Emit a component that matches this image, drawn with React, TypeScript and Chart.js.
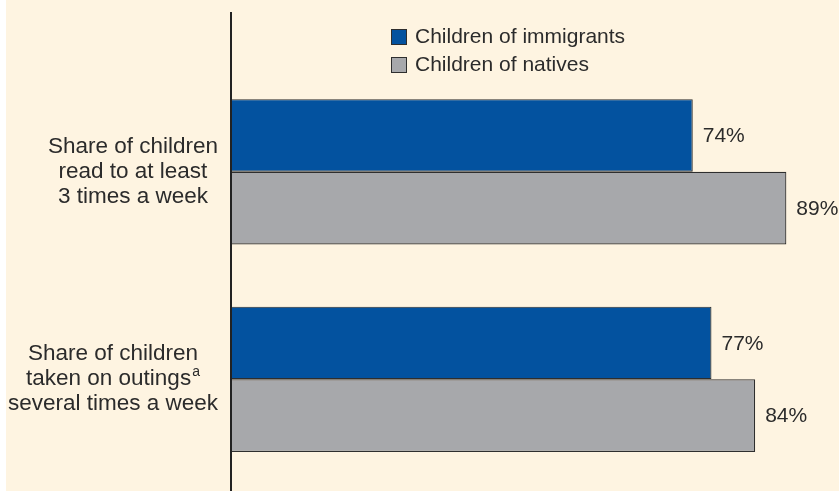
import React, { useEffect, useRef } from 'react';
import { Chart, registerables } from 'chart.js';

Chart.register(...registerables);

// ---- data ----
const categoryLines: string[][] = [
  ['Share of children', 'read to at least', '3 times a week'],
  ['Share of children', 'taken on outings^a', 'several times a week'],
];
const seriesNames = ['Children of immigrants', 'Children of natives'];
const immigrantsValues = [74, 77];
const nativesValues = [89, 84];
const valueSuffix = '%';

// ---- style ----
const BLUE = '#03529f';
const GRAY = '#a7a8ab';
const BORDER = '#2e2e2e';
const CREAM = '#fef4e1';
const TEXT = '#2b2b2b';
const FAMILY = '"Liberation Sans", Arial, Helvetica, sans-serif';
const FONT_PX = 21;
const CAT_PX = 22.5;

function drawLine(ctx: CanvasRenderingContext2D, line: string, cx: number, y: number) {
  const parts = line.split('^');
  const main = parts[0];
  const sup = parts[1] || '';
  ctx.font = `${CAT_PX}px ${FAMILY}`;
  const wMain = ctx.measureText(main).width;
  ctx.font = `${Math.round(CAT_PX * 0.62)}px ${FAMILY}`;
  const wSup = sup ? ctx.measureText(sup).width + 1 : 0;
  const start = cx - (wMain + wSup) / 2;
  ctx.textAlign = 'left';
  ctx.textBaseline = 'middle';
  ctx.font = `${CAT_PX}px ${FAMILY}`;
  ctx.fillText(main, start, y);
  if (sup) {
    ctx.font = `${Math.round(CAT_PX * 0.62)}px ${FAMILY}`;
    ctx.fillText(sup, start + wMain + 1, y - 7);
  }
}

function lineWidth(ctx: CanvasRenderingContext2D, line: string) {
  const parts = line.split('^');
  ctx.font = `${CAT_PX}px ${FAMILY}`;
  let w = ctx.measureText(parts[0]).width;
  if (parts[1]) {
    ctx.font = `${Math.round(CAT_PX * 0.62)}px ${FAMILY}`;
    w += ctx.measureText(parts[1]).width + 1;
  }
  return w;
}

const decorPlugin = {
  id: 'decor',
  afterDatasetsDraw(chart: any) {
    const { ctx, chartArea, scales } = chart;
    const yScale = scales.y;
    ctx.save();
    // axis line
    ctx.strokeStyle = '#222';
    ctx.lineWidth = 2;
    ctx.beginPath();
    ctx.moveTo(chartArea.left, 12);
    ctx.lineTo(chartArea.left, chart.height);
    ctx.stroke();

    // category labels (centered blocks, right-aligned as blocks)
    ctx.fillStyle = TEXT;
    const rightEdge = chartArea.left - 13;
    const lh = 25;
    categoryLines.forEach((lines, i) => {
      const yc = yScale.getPixelForValue(i);
      const widest = Math.max(...lines.map((l) => lineWidth(ctx, l)));
      const cx = rightEdge - widest / 2;
      lines.forEach((l, k) => {
        drawLine(ctx, l, cx, yc + (k - (lines.length - 1) / 2) * lh);
      });
    });

    // value labels
    ctx.font = `${FONT_PX}px ${FAMILY}`;
    ctx.textAlign = 'left';
    ctx.textBaseline = 'middle';
    chart.data.datasets.forEach((ds: any, di: number) => {
      const meta = chart.getDatasetMeta(di);
      meta.data.forEach((el: any, j: number) => {
        ctx.fillText(`${ds.data[j]}${valueSuffix}`, el.x + 10, el.y + 1);
      });
    });

    // legend
    const lx = 385;
    const ly = [29, 57];
    chart.data.datasets.forEach((ds: any, di: number) => {
      ctx.fillStyle = BORDER;
      ctx.fillRect(lx, ly[di], 16, 16);
      ctx.fillStyle = ds.backgroundColor;
      ctx.fillRect(lx + 1, ly[di] + 1, 14, 14);
      ctx.fillStyle = TEXT;
      ctx.font = `${FONT_PX}px ${FAMILY}`;
      ctx.textAlign = 'left';
      ctx.textBaseline = 'middle';
      ctx.fillText(ds.label, lx + 24, ly[di] + 8.5);
    });
    ctx.restore();
  },
};

export default function App() {
  const ref = useRef<HTMLCanvasElement>(null);
  useEffect(() => {
    if (!ref.current) return;
    const chart = new Chart(ref.current, {
      type: 'bar',
      data: {
        labels: categoryLines.map((l) => l.join(' ').replace('^', '')),
        datasets: [
          {
            label: seriesNames[0],
            data: immigrantsValues,
            backgroundColor: BLUE,
            borderColor: BORDER,
            borderWidth: 1.2,
            categoryPercentage: 0.7,
            barPercentage: 1,
          },
          {
            label: seriesNames[1],
            data: nativesValues,
            backgroundColor: GRAY,
            borderColor: BORDER,
            borderWidth: 1.2,
            categoryPercentage: 0.7,
            barPercentage: 1,
          },
        ],
      },
      options: {
        indexAxis: 'y',
        responsive: false,
        animation: false,
        devicePixelRatio: 1,
        layout: { padding: { left: 225, top: 68, right: 15.2, bottom: 8 } },
        scales: {
          x: { display: false, min: 0, max: 95 },
          y: { display: false },
        },
        plugins: {
          legend: { display: false },
          tooltip: { enabled: false },
        },
      },
      plugins: [decorPlugin],
    });
    return () => chart.destroy();
  }, []);

  return (
    <div style={{ position: 'fixed', left: 0, top: 0, width: 839, height: 491, background: '#ffffff' }}>
      <canvas
        ref={ref}
        width={833}
        height={491}
        style={{ position: 'absolute', left: 6, top: 0, width: 833, height: 491, background: CREAM }}
      />
    </div>
  );
}
